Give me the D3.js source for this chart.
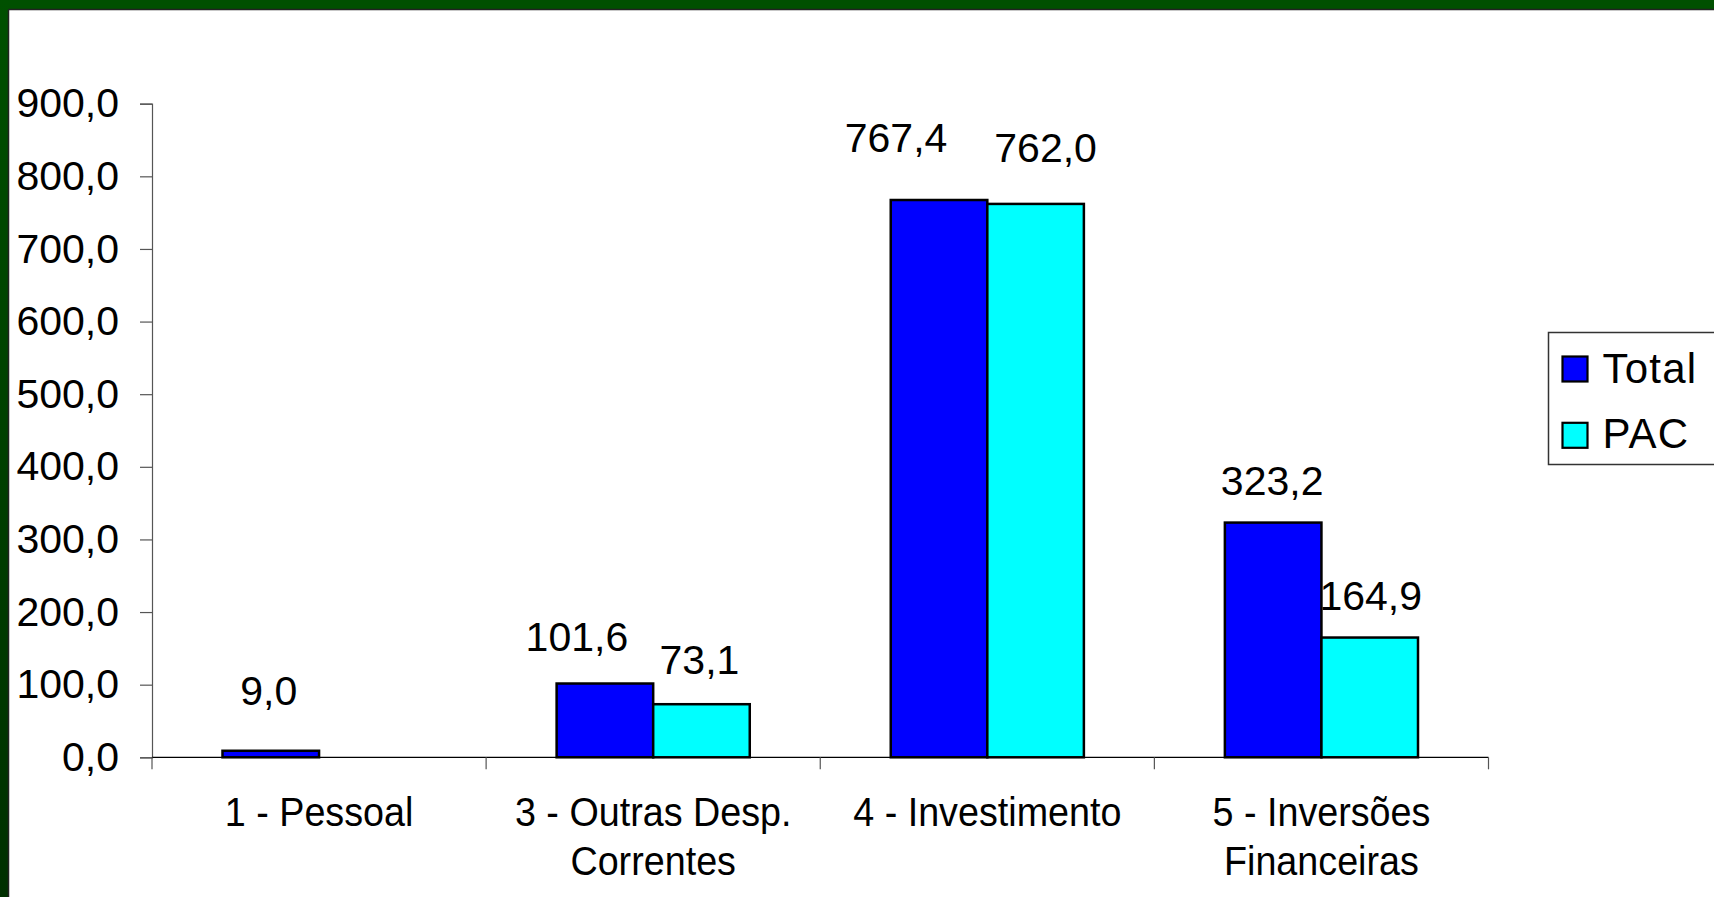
<!DOCTYPE html>
<html>
<head>
<meta charset="utf-8">
<script src="https://cdn.jsdelivr.net/npm/d3@7"></script>
<style>
  html, body { margin: 0; padding: 0; background: #fff; overflow: hidden; }
  svg text { font-family: "Liberation Sans", Arial, sans-serif; fill: #000; }
</style>
</head>
<body>
<svg id="chart" width="1714" height="897"></svg>
<script>
// dados
const categories = ['1 - Pessoal', '3 - Outras Desp. Correntes', '4 - Investimento', '5 - Inversões Financeiras'];
const categoryLines = [['1 - Pessoal'], ['3 - Outras Desp.', 'Correntes'], ['4 - Investimento'], ['5 - Inversões', 'Financeiras']];
const seriesNames = ['Total', 'PAC'];
const totalValues = [9.0, 101.6, 767.4, 323.2];
const pacValues = [null, 73.1, 762.0, 164.9];
const yTicks = [0, 100, 200, 300, 400, 500, 600, 700, 800, 900];
const colors = ['#0000ff', '#00ffff'];

const svg = d3.select('#chart');
const fmt = v => d3.format('.1f')(v).replace('.', ',');

// moldura verde do slide
const defs = svg.append('defs');
const grad = defs.append('linearGradient').attr('id', 'leftbar')
    .attr('x1', 0).attr('y1', 0).attr('x2', 0).attr('y2', 1);
grad.append('stop').attr('offset', '0%').attr('stop-color', '#005000');
grad.append('stop').attr('offset', '100%').attr('stop-color', '#003000');
svg.append('rect').attr('x', 0).attr('y', 0).attr('width', 1714).attr('height', 10).attr('fill', '#005000');
svg.append('rect').attr('x', 0).attr('y', 0).attr('width', 9).attr('height', 897).attr('fill', 'url(#leftbar)');
svg.append('line').attr('x1', 8.5).attr('x2', 1714).attr('y1', 9.5).attr('y2', 9.5).attr('stroke', '#222').attr('stroke-width', 1.5);
svg.append('line').attr('x1', 8.5).attr('x2', 8.5).attr('y1', 9.5).attr('y2', 897).attr('stroke', '#222').attr('stroke-width', 1.5);

// escalas
const x0 = d3.scaleBand().domain(categories).range([152, 1488.5]).padding(0);
const x1 = d3.scaleBand().domain(seriesNames).range([0, x0.bandwidth()]).paddingInner(0).paddingOuter(0.73);
const y = d3.scaleLinear().domain([0, 900]).range([757.3, 103.7]);

// eixo Y
const yAxis = svg.append('g').attr('transform', 'translate(152,0)')
    .call(d3.axisLeft(y).tickValues(yTicks).tickFormat(fmt).tickSize(12).tickPadding(21));
yAxis.select('.domain').attr('stroke', '#555').attr('stroke-width', 1.2);
yAxis.selectAll('.tick line').attr('stroke', '#555').attr('stroke-width', 1.2);
yAxis.selectAll('.tick text').attr('font-size', 41).attr('font-family', '"Liberation Sans", Arial, sans-serif').attr('fill', '#000');

// eixo X
const xAxisY = y(0);
svg.append('line').attr('x1', 152).attr('x2', 1488.5).attr('y1', xAxisY).attr('y2', xAxisY)
    .attr('stroke', '#000').attr('stroke-width', 1.3);
const bounds = categories.map(c => x0(c)).concat([x0.range()[1]]);
svg.selectAll('.xtick').data(bounds).join('line')
    .attr('class', 'xtick')
    .attr('x1', d => d).attr('x2', d => d)
    .attr('y1', xAxisY).attr('y2', xAxisY + 12)
    .attr('stroke', '#555').attr('stroke-width', 1.2);

// rótulos das categorias (um pouco condensados, como no original)
categories.forEach((c, i) => {
    const cx = x0(c) + x0.bandwidth() / 2;
    const t = svg.append('text')
        .attr('class', 'xlabel')
        .attr('text-anchor', 'middle')
        .attr('font-size', 41)
        .attr('transform', `translate(${cx},825.5) scale(0.92,1)`);
    categoryLines[i].forEach((line, j) => {
        t.append('tspan').attr('x', 0).attr('y', j * 49.5).text(line);
    });
});

// barras
const rows = [];
categories.forEach((c, i) => {
    [totalValues[i], pacValues[i]].forEach((v, k) => {
        if (v !== null) rows.push({ cat: c, series: seriesNames[k], value: v, color: colors[k] });
    });
});

svg.append('g').selectAll('rect').data(rows).join('rect')
    .attr('x', d => x0(d.cat) + x1(d.series))
    .attr('y', d => y(d.value))
    .attr('width', x1.bandwidth())
    .attr('height', d => y(0) - y(d.value))
    .attr('fill', d => d.color)
    .attr('stroke', '#000')
    .attr('stroke-width', 2.5);

// rótulos de dados (posições ajustadas como no original)
const nudge = {
    '1 - Pessoal|Total': [-2, -46],
    '3 - Outras Desp. Correntes|Total': [-28, -33],
    '3 - Outras Desp. Correntes|PAC': [-2, -30],
    '4 - Investimento|Total': [-43, -48],
    '4 - Investimento|PAC': [10, -42],
    '5 - Inversões Financeiras|Total': [-1, -28],
    '5 - Inversões Financeiras|PAC': [1, -28]
};
svg.append('g').selectAll('text').data(rows).join('text')
    .attr('text-anchor', 'middle')
    .attr('font-size', 41)
    .attr('x', d => x0(d.cat) + x1(d.series) + x1.bandwidth() / 2 + nudge[d.cat + '|' + d.series][0])
    .attr('y', d => y(d.value) + nudge[d.cat + '|' + d.series][1])
    .text(d => fmt(d.value));

// legenda
const lg = svg.append('g').attr('transform', 'translate(1548.5,332.5)');
lg.append('rect').attr('x', 0).attr('y', 0).attr('width', 200).attr('height', 132)
    .attr('fill', '#fff').attr('stroke', '#333').attr('stroke-width', 1.5);
seriesNames.forEach((s, i) => {
    lg.append('rect').attr('x', 14).attr('y', 24 + i * 66.3).attr('width', 25).attr('height', 25)
        .attr('fill', colors[i]).attr('stroke', '#000').attr('stroke-width', 2.2);
    lg.append('text').attr('x', 54).attr('y', 50 + i * 65.7).attr('font-size', 42)
        .attr('letter-spacing', 1.2).text(s);
});
</script>
</body>
</html>
